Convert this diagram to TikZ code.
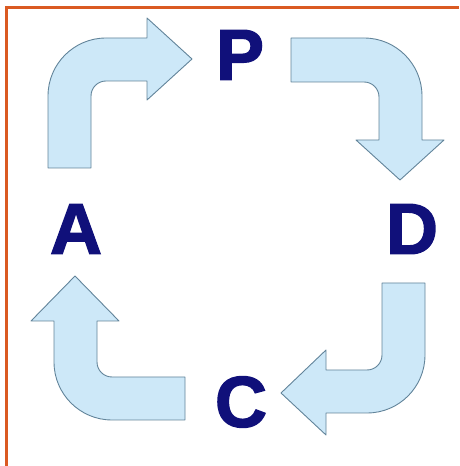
\documentclass[tikz,border=0pt]{standalone}
\usepackage{fontspec}
\setmainfont{Liberation Sans}[BoldFeatures={FakeBold=2}]
\usetikzlibrary{positioning}
\definecolor{CycleNavy}{HTML}{10107A}
\definecolor{ArrowFill}{HTML}{CDE8F8}
\definecolor{ArrowEdge}{HTML}{62849A}
\definecolor{FrameOrange}{HTML}{DA5A22}

\begin{document}
\begin{tikzpicture}[x=1pt,y=1pt,
      letter/.style={text=CycleNavy,font=\fontsize{72}{72}\selectfont\bfseries,inner sep=0pt},
      blockarrow/.style={fill=ArrowFill,draw=ArrowEdge,line width=0.9pt,line join=round}]
    \useasboundingbox (0,0) rectangle (459,466);
    % frame (left and top edge only)
    \draw[FrameOrange,line width=3pt] (6,0) -- (6,458) -- (459,458);
    % letters
    \node[letter] (plan)  at (240,411) {P};
    \node[letter] (do)    at (412,237) {D};
    \node[letter] (check) at (241,64)  {C};
    \node[letter] (act)   at (76,237)  {A};
    % A -> P
    \draw[blockarrow] (48,298) -- (48,370) arc[start angle=180,end angle=90,radius=58]
      -- (147,428) -- (147,448) -- (192,407) -- (147,366) -- (147,385) -- (106,385)
      arc[start angle=90,end angle=180,radius=15] -- (91,298) -- cycle;
    % P -> D
    \draw[blockarrow] (291,428) -- (364,428) arc[start angle=90,end angle=0,radius=58]
      -- (422,326) -- (444,326) -- (400,286) -- (356,326) -- (379,326) -- (379,369)
      arc[start angle=0,end angle=90,radius=15] -- (291,384) -- cycle;
    % D -> C
    \draw[blockarrow] (425,183) -- (425,111) arc[start angle=0,end angle=-90,radius=58]
      -- (326,53) -- (326,31) -- (281,73) -- (326,116) -- (326,96) -- (367,96)
      arc[start angle=-90,end angle=0,radius=15] -- (382,183) -- cycle;
    % C -> A
    \draw[blockarrow] (185,89) -- (112,89) arc[start angle=270,end angle=180,radius=15]
      -- (97,145) -- (119,145) -- (75,190) -- (31,145) -- (54,145) -- (54,104)
      arc[start angle=180,end angle=270,radius=58] -- (185,46) -- cycle;
  \end{tikzpicture}
\end{document}
